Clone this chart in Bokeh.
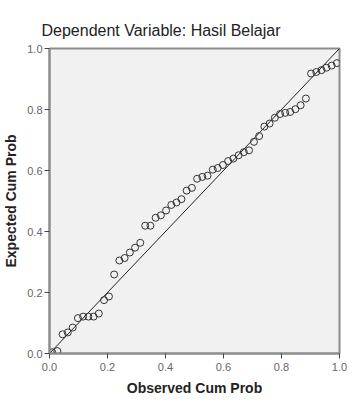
from bokeh.plotting import figure
from bokeh.models import Range1d, FixedTicker, NumeralTickFormatter, ColumnDataSource
from bokeh.embed import file_html
from bokeh.resources import INLINE

# Observed cumulative probability (x) and expected cumulative probability (y)
observed = [0.009, 0.027, 0.045, 0.063, 0.080, 0.098, 0.116, 0.134, 0.152, 0.170,
            0.188, 0.205, 0.223, 0.241, 0.259, 0.277, 0.295, 0.313, 0.330, 0.348,
            0.366, 0.384, 0.402, 0.420, 0.438, 0.455, 0.473, 0.491, 0.509, 0.527,
            0.545, 0.563, 0.580, 0.598, 0.616, 0.634, 0.652, 0.670, 0.688, 0.705,
            0.723, 0.741, 0.759, 0.777, 0.795, 0.813, 0.830, 0.848, 0.866, 0.884,
            0.902, 0.920, 0.938, 0.955, 0.973, 0.991]
expected = [0.004, 0.008, 0.063, 0.069, 0.085, 0.116, 0.121, 0.121, 0.121, 0.131,
            0.175, 0.187, 0.259, 0.305, 0.313, 0.331, 0.347, 0.363, 0.419, 0.419,
            0.445, 0.453, 0.469, 0.487, 0.495, 0.506, 0.534, 0.543, 0.573, 0.579,
            0.583, 0.603, 0.608, 0.618, 0.631, 0.639, 0.650, 0.660, 0.666, 0.694,
            0.713, 0.744, 0.754, 0.773, 0.785, 0.789, 0.792, 0.801, 0.814, 0.836,
            0.918, 0.923, 0.929, 0.937, 0.944, 0.952]
ref_line_x = [0.0, 1.0]
ref_line_y = [0.0, 1.0]
ticks = [0.0, 0.2, 0.4, 0.6, 0.8, 1.0]

FONT = "Liberation Sans"

p = figure(width=347, height=398, output_backend="svg", toolbar_location=None,
           x_range=Range1d(0, 1), y_range=Range1d(0, 1),
           title="Dependent Variable: Hasil Belajar",
           min_border_left=44, min_border_right=8, min_border_top=48,
           min_border_bottom=40)

p.title.text_font = FONT
p.title.text_font_size = "16px"
p.title.text_font_style = "normal"
p.title.text_color = "#222222"
p.title.align = "left"
p.title.offset = -8
p.title.standoff = 20

p.background_fill_color = "#f1f1f1"
p.border_fill_color = "white"
p.outline_line_color = "#8c8c8c"
p.outline_line_width = 2
p.xgrid.visible = False
p.ygrid.visible = False

for ax in (p.xaxis[0], p.yaxis[0]):
    ax.ticker = FixedTicker(ticks=ticks)
    ax.formatter = NumeralTickFormatter(format="0.0")
    ax.axis_line_color = "#8c8c8c"
    ax.axis_line_width = 2
    ax.major_tick_line_color = "#444444"
    ax.major_tick_line_width = 1
    ax.major_tick_in = 0
    ax.major_tick_out = 5
    ax.minor_tick_line_color = None
    ax.major_label_text_font = FONT
    ax.major_label_text_font_size = "11px"
    ax.major_label_text_color = "#666666"
    ax.axis_label_text_font = FONT
    ax.axis_label_text_font_size = "14px"
    ax.axis_label_text_font_style = "bold"
    ax.axis_label_text_color = "#222222"

p.xaxis.axis_label = "Observed Cum Prob"
p.yaxis.axis_label = "Expected Cum Prob"
p.xaxis.major_label_standoff = 4
p.xaxis.axis_label_standoff = 6
p.yaxis.major_label_standoff = 2
p.yaxis.axis_label_standoff = 5

p.line(ref_line_x, ref_line_y, line_color="#222222", line_width=1)

src = ColumnDataSource(dict(x=observed, y=expected))
p.scatter("x", "y", source=src, marker="circle", size=7,
          fill_color=None, line_color="#333333", line_width=1)

open("out.html", "w").write(file_html(p, INLINE))
